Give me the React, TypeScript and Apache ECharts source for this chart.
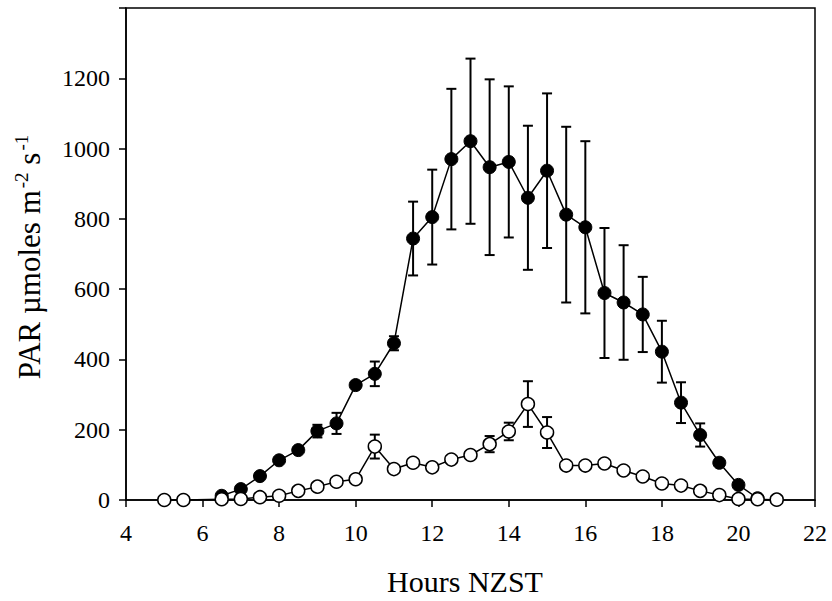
import React, { useEffect, useRef } from "react";
import * as echarts from "echarts";

// Filled circles (upper series)
const filledHours = [6.5, 7, 7.5, 8, 8.5, 9, 9.5, 10, 10.5, 11, 11.5, 12, 12.5, 13, 13.5, 14, 14.5, 15, 15.5, 16, 16.5, 17, 17.5, 18, 18.5, 19, 19.5, 20, 20.5];
const filledMean = [12, 31, 68, 113, 142, 196, 218, 327, 359, 446, 744, 805, 970, 1021, 947, 962, 860, 937, 812, 776, 589, 562, 528, 422, 277, 185, 106, 43, 5];
const filledErr = [0, 0, 0, 0, 0, 18, 30, 10, 35, 20, 105, 135, 200, 235, 250, 215, 205, 220, 250, 245, 185, 163, 107, 88, 58, 33, 6, 4, 0];

// Open circles (lower series)
const openHours = [5, 5.5, 6.5, 7, 7.5, 8, 8.5, 9, 9.5, 10, 10.5, 11, 11.5, 12, 12.5, 13, 13.5, 14, 14.5, 15, 15.5, 16, 16.5, 17, 17.5, 18, 18.5, 19, 19.5, 20, 20.5, 21];
const openMean = [0, 0, 2, 3, 8, 12, 26, 38, 52, 59, 152, 88, 106, 93, 115, 128, 159, 195, 273, 192, 98, 98, 104, 84, 67, 47, 41, 26, 14, 3, 2, 1];
const openErr = [0, 0, 0, 0, 0, 0, 0, 0, 0, 0, 34, 0, 0, 0, 0, 0, 23, 25, 65, 44, 0, 0, 0, 0, 0, 0, 0, 0, 0, 0, 0, 0];

const xTicks = { min: 4, max: 22, interval: 2 };
const yTicks = { min: 0, max: 1400, interval: 200 };

const FONT = "'Liberation Serif', 'Times New Roman', serif";

function errData(hours: number[], mean: number[], err: number[]) {
  return hours
    .map((h, i) => [h, mean[i] - err[i], mean[i] + err[i]])
    .filter((d, i) => err[i] > 0);
}

function errRender(params: any, api: any) {
  const x = api.value(0);
  const lo = api.coord([x, api.value(1)]);
  const hi = api.coord([x, api.value(2)]);
  const cap = 5;
  const style = { stroke: "#000", lineWidth: 2 };
  return {
    type: "group",
    children: [
      { type: "line", shape: { x1: lo[0], y1: lo[1], x2: hi[0], y2: hi[1] }, style },
      { type: "line", shape: { x1: hi[0] - cap, y1: hi[1], x2: hi[0] + cap, y2: hi[1] }, style },
      { type: "line", shape: { x1: lo[0] - cap, y1: lo[1], x2: lo[0] + cap, y2: lo[1] }, style },
    ],
  };
}

export default function App() {
  const ref = useRef<HTMLDivElement>(null);
  useEffect(() => {
    if (!ref.current) return;
    const chart = echarts.init(ref.current, null, { renderer: "svg" });
    chart.setOption({
      animation: false,
      backgroundColor: "#fff",
      grid: {
        left: 126,
        right: 17,
        top: 8,
        bottom: 101,
        show: true,
        borderColor: "#000",
        borderWidth: 1.5,
      },
      xAxis: {
        type: "value",
        min: xTicks.min,
        max: xTicks.max,
        interval: xTicks.interval,
        axisLine: { lineStyle: { color: "#000", width: 1.5 } },
        axisTick: { show: true, length: 7, lineStyle: { color: "#000", width: 1.5 } },
        splitLine: { show: false },
        axisLabel: { color: "#000", fontFamily: FONT, fontSize: 24, margin: 21 },
      },
      yAxis: {
        type: "value",
        min: yTicks.min,
        max: yTicks.max,
        interval: yTicks.interval,
        axisLine: { show: true, lineStyle: { color: "#000", width: 1.5 } },
        axisTick: { show: true, length: 7, lineStyle: { color: "#000", width: 1.5 } },
        splitLine: { show: false },
        axisLabel: {
          color: "#000",
          fontFamily: FONT,
          fontSize: 24,
          margin: 16,
          formatter: (v: number) => (v === 1400 ? "" : String(v)),
        },
      },
      graphic: [
        {
          type: "text",
          x: 465,
          y: 581,
          style: {
            text: "Hours NZST",
            fontFamily: FONT,
            fontSize: 30,
            fill: "#000",
            align: "center",
            verticalAlign: "middle",
          },
        },
        {
          type: "text",
          x: 29,
          y: 257,
          rotation: Math.PI / 2,
          style: {
            text: "{n|PAR µmoles m}{s|-2}{n| s}{s|-1}",
            fontFamily: FONT,
            fill: "#000",
            align: "center",
            verticalAlign: "middle",
            rich: {
              n: { fontSize: 31, fontFamily: FONT, fill: "#000" },
              s: { fontSize: 19, fontFamily: FONT, fill: "#000", verticalAlign: "top", padding: [0, 0, 16, 2] },
            },
          },
        },
      ],
      series: [
        {
          type: "custom",
          renderItem: errRender,
          data: errData(filledHours, filledMean, filledErr),
          z: 1,
          silent: true,
        },
        {
          type: "custom",
          renderItem: errRender,
          data: errData(openHours, openMean, openErr),
          z: 1,
          silent: true,
        },
        {
          type: "line",
          data: filledHours.map((h, i) => [h, filledMean[i]]),
          symbol: "circle",
          symbolSize: 13,
          lineStyle: { color: "#000", width: 1.5 },
          itemStyle: { color: "#000", borderColor: "#000", borderWidth: 1 },
          z: 3,
        },
        {
          type: "line",
          data: openHours.map((h, i) => [h, openMean[i]]),
          symbol: "circle",
          symbolSize: 13,
          lineStyle: { color: "#000", width: 1.5 },
          itemStyle: { color: "#fff", borderColor: "#000", borderWidth: 1.5 },
          z: 4,
        },
      ],
    });
    return () => chart.dispose();
  }, []);
  return (
    <div
      ref={ref}
      style={{ position: "fixed", left: 0, top: 0, width: 832, height: 601, background: "#fff" }}
    />
  );
}
